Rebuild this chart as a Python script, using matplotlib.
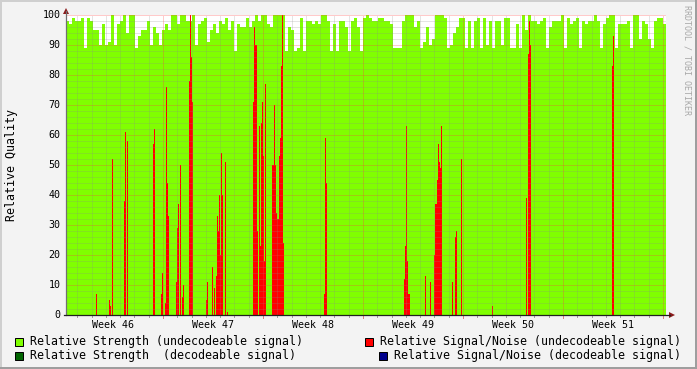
import numpy as np
import matplotlib
matplotlib.use("Agg")
import matplotlib.pyplot as plt
from matplotlib.patches import Rectangle, Polygon
from matplotlib.lines import Line2D
from matplotlib.transforms import blended_transform_factory

# ---------------- data ----------------
week_labels = ["Week 46", "Week 47", "Week 48", "Week 49", "Week 50", "Week 51"]
y_tick_values = [0, 10, 20, 30, 40, 50, 60, 70, 80, 90, 100]

start_day = 0.21          # first sample, days after start of week 46
sample_days = 0.07        # one sample per ~1.7 h
strength_bin_samples = 3  # strength series below is given per 3 samples

# Relative Strength (undecodeable signal), one value per 3 samples
strength_undecodeable = [
    98, 97, 99, 98, 98, 99, 89, 99, 98, 95, 95, 90, 97, 90, 91, 100, 90, 97, 98, 100,
    94, 100, 100, 89, 93, 95, 95, 98, 90, 96, 94, 90, 95, 97, 95, 100, 100, 97, 100, 100,
    98, 98, 100, 90, 97, 98, 99, 91, 95, 97,
    94, 98, 97, 99, 95, 98, 88, 97, 96, 96,
    99, 96, 98, 100, 98, 100, 100, 97, 96, 100,
    100, 100, 100, 88, 96, 95, 88, 89, 99, 88,
    98, 98, 97, 98, 97, 100, 100, 98, 88, 97,
    88, 98, 98, 96, 88, 98, 99, 96, 88, 99,
    100, 99, 98, 98, 99, 99, 98, 98, 97, 89,
    89, 89, 98, 100, 100, 100, 96, 98, 89, 91,
    96, 90, 92, 100, 100, 100, 99, 89, 90, 94,
    96, 99, 99, 89, 98, 89, 98, 99, 89, 99,
    90, 98, 89, 98, 98, 90, 99, 99, 89, 89,
    97, 89, 100, 95, 100, 98, 98, 97, 98, 99,
    89, 96, 98, 98, 98, 100, 89, 99, 97, 98,
    99, 89, 98, 97, 98, 98, 100, 98, 89, 97,
    99, 100, 100, 89, 97, 97, 97, 98, 89, 100,
    100, 92, 98, 97, 92, 89, 98, 99, 99, 97,
]

# Relative Signal/Noise (undecodeable signal): sample index -> value
snr_sample = [
    30, 43, 44, 46, 58, 59, 61, 87, 88, 95, 96, 99, 100, 101, 102,
    110, 111, 112, 114, 116, 117, 123, 124, 125, 126,
    140, 141, 146, 148, 150, 151, 152, 153, 154, 155, 156, 159, 161,
    187, 188, 189, 190, 191, 193, 194, 195, 196, 197, 198, 199,
    206, 207, 208, 209, 210, 211, 212, 213, 214, 215, 216, 217,
    258, 259, 260, 338, 339, 340, 341, 342, 343,
    359, 364, 368, 369, 370, 371, 372, 373, 374, 375,
    386, 389, 390, 395, 426, 460, 462, 463, 464, 546, 547,
]
snr_undecodeable = [
    7, 5, 3, 52, 38, 61, 58, 57, 62, 7, 14, 4, 76, 44, 33,
    11, 29, 37, 50, 6, 10, 78, 100, 86, 71,
    5, 11, 16, 9, 13, 33, 28, 40, 20, 54, 40, 51, 1,
    71, 96, 90, 90, 28, 63, 23, 64, 71, 53, 18, 77,
    50, 50, 70, 50, 34, 32, 32, 53, 59, 83, 100, 24,
    7, 59, 44, 12, 23, 63, 18, 7, 7,
    13, 11, 20, 37, 37, 45, 57, 51, 49, 63,
    11, 26, 28, 52, 3, 39, 87, 98, 90, 83, 93,
]

# decodeable series: no visible samples in this period
strength_decodeable_sample = []
strength_decodeable = []
snr_decodeable_sample = []
snr_decodeable = []

legend_labels = [
    "Relative Strength (undecodeable signal)",
    "Relative Signal/Noise (undecodeable signal)",
    "Relative Strength  (decodeable signal)",
    "Relative Signal/Noise (decodeable signal)",
]

# ---------------- style ----------------
C_LGREEN = "#80FF00"
C_RED = "#FF0000"
C_DGREEN = "#006400"
C_BLUE = "#00008B"
MONO = "DejaVu Sans Mono"

W, H = 697, 369
fig = plt.figure(figsize=(W / 100, H / 100), dpi=100, facecolor="#F3F3F3")


def fx(px):
    return px / W


def fy(py):
    return 1 - py / H


L, R, T, B = 66, 666, 15, 315
ax = fig.add_axes([fx(L), fy(B), fx(R) - fx(L), fy(T) - fy(B)])
ax.set_facecolor("white")
for s in ax.spines.values():
    s.set_visible(False)

n_samples = len(strength_undecodeable) * strength_bin_samples
x_min = start_day
x_max = start_day + n_samples * sample_days
ax.set_xlim(x_min, x_max)
ax.set_ylim(0, 100)

# strength (light green area)
bin_w = strength_bin_samples * sample_days
gx = start_day + np.arange(len(strength_undecodeable)) * bin_w
ax.bar(gx, strength_undecodeable, width=bin_w, align="edge", color=C_LGREEN,
       linewidth=0, antialiased=False, zorder=1)

# decodeable strength
if strength_decodeable:
    dx = start_day + np.array(strength_decodeable_sample) * sample_days
    ax.bar(dx, strength_decodeable, width=sample_days, align="edge", color=C_DGREEN,
           linewidth=0, antialiased=False, zorder=2)

# signal/noise (red)
rx = start_day + np.array(snr_sample) * sample_days
ax.bar(rx, snr_undecodeable, width=sample_days, align="edge", color=C_RED,
       linewidth=0, antialiased=False, zorder=3)

if snr_decodeable:
    bx = start_day + np.array(snr_decodeable_sample) * sample_days
    ax.bar(bx, snr_decodeable, width=sample_days, align="edge", color=C_BLUE,
           linewidth=0, antialiased=False, zorder=4)

# grid
n_days = int(np.floor(x_max))
day_lines = [d for d in range(1, n_days + 1) if d % 7 != 0]
week_lines = [d for d in range(0, n_days + 1, 7) if d >= x_min]
minor_y = [v for v in range(2, 101, 2) if v % 10 != 0]
major_y = list(range(10, 101, 10))
minor_col = (0.55, 0.55, 0.55, 0.45)
major_col = (1.0, 0.25, 0.25, 0.55)
dot = (0, (1, 1))
for d in day_lines:
    ax.axvline(d, color=minor_col, lw=0.72, ls=dot, zorder=5)
for v in minor_y:
    ax.axhline(v, color=minor_col, lw=0.72, ls=dot, zorder=5)
for d in week_lines:
    ax.axvline(d, color=major_col, lw=0.72, ls=dot, zorder=6)
for v in major_y:
    ax.axhline(v, color=major_col, lw=0.72, ls=dot, zorder=6)

ax.set_xticks([])
ax.set_yticks([])

# y tick labels
ty = blended_transform_factory(fig.transFigure, ax.transData)
for v in y_tick_values:
    ax.text(fx(60.5), v, str(v), transform=ty, ha="right", va="center",
            fontsize=7.2, family=MONO, color="black", clip_on=False)

# week labels (centered mid-week)
tx = blended_transform_factory(ax.transData, fig.transFigure)
for k, lab in enumerate(week_labels):
    ax.text(3.5 + 7 * k, fy(324.5), lab, transform=tx, ha="center", va="center",
            fontsize=7.2, family=MONO, color="black", clip_on=False)

# small ticks below x-axis
for d in day_lines:
    ax.plot([d, d], [0, -0.8], color="#A0A0A0", lw=0.72, clip_on=False, zorder=7)
for d in week_lines:
    ax.plot([d, d], [0, -0.9], color="#E08080", lw=0.72, clip_on=False, zorder=7)

# axes lines and arrows
fig.add_artist(Line2D([fx(L), fx(L)], [fy(B), fy(11)], color="#707070", lw=0.9))
fig.add_artist(Line2D([fx(L - 2), fx(670)], [fy(B), fy(B)], color="#202020", lw=0.9))
fig.add_artist(Polygon([[fx(L - 3), fy(14)], [fx(L + 3), fy(14)], [fx(L), fy(8)]],
                       closed=True, color="#8B1A1A", lw=0))
fig.add_artist(Polygon([[fx(669), fy(B - 3)], [fx(669), fy(B + 3)], [fx(675), fy(B)]],
                       closed=True, color="#8B1A1A", lw=0))

# y label
fig.text(fx(12), fy(165), "Relative Quality", rotation=90, ha="center", va="center",
         fontsize=8.4, family=MONO, color="black")

# watermark
fig.text(fx(687.5), fy(5), "RRDTOOL / TOBI OETIKER", rotation=270, ha="center", va="top",
         fontsize=6.0, family=MONO, color="#A8A8A8")

# legend
legend_items = [
    (15, 341.5, 30, C_LGREEN, legend_labels[0]),
    (365, 341.5, 380, C_RED, legend_labels[1]),
    (15, 355.5, 30, C_DGREEN, legend_labels[2]),
    (379, 355.5, 394, C_BLUE, legend_labels[3]),
]
for bx0, yc, tx0, col, lab in legend_items:
    fig.add_artist(Rectangle((fx(bx0), fy(yc + 4)), 8 / W, 8 / H, facecolor=col,
                             edgecolor="black", lw=0.72))
    fig.text(fx(tx0), fy(yc), lab, ha="left", va="center", fontsize=8.35,
             family=MONO, color="black")

# 3D frame
fig.add_artist(Rectangle((0, fy(2)), 1, 2 / H, facecolor="#CFCFCF", lw=0))
fig.add_artist(Rectangle((0, 0), 2 / W, 1, facecolor="#CFCFCF", lw=0))
fig.add_artist(Rectangle((0, 0), 1, 2 / H, facecolor="#9E9E9E", lw=0))
fig.add_artist(Rectangle((fx(W - 2), 0), 2 / W, 1, facecolor="#9E9E9E", lw=0))

fig.savefig("out.png", dpi=100, facecolor=fig.get_facecolor())
